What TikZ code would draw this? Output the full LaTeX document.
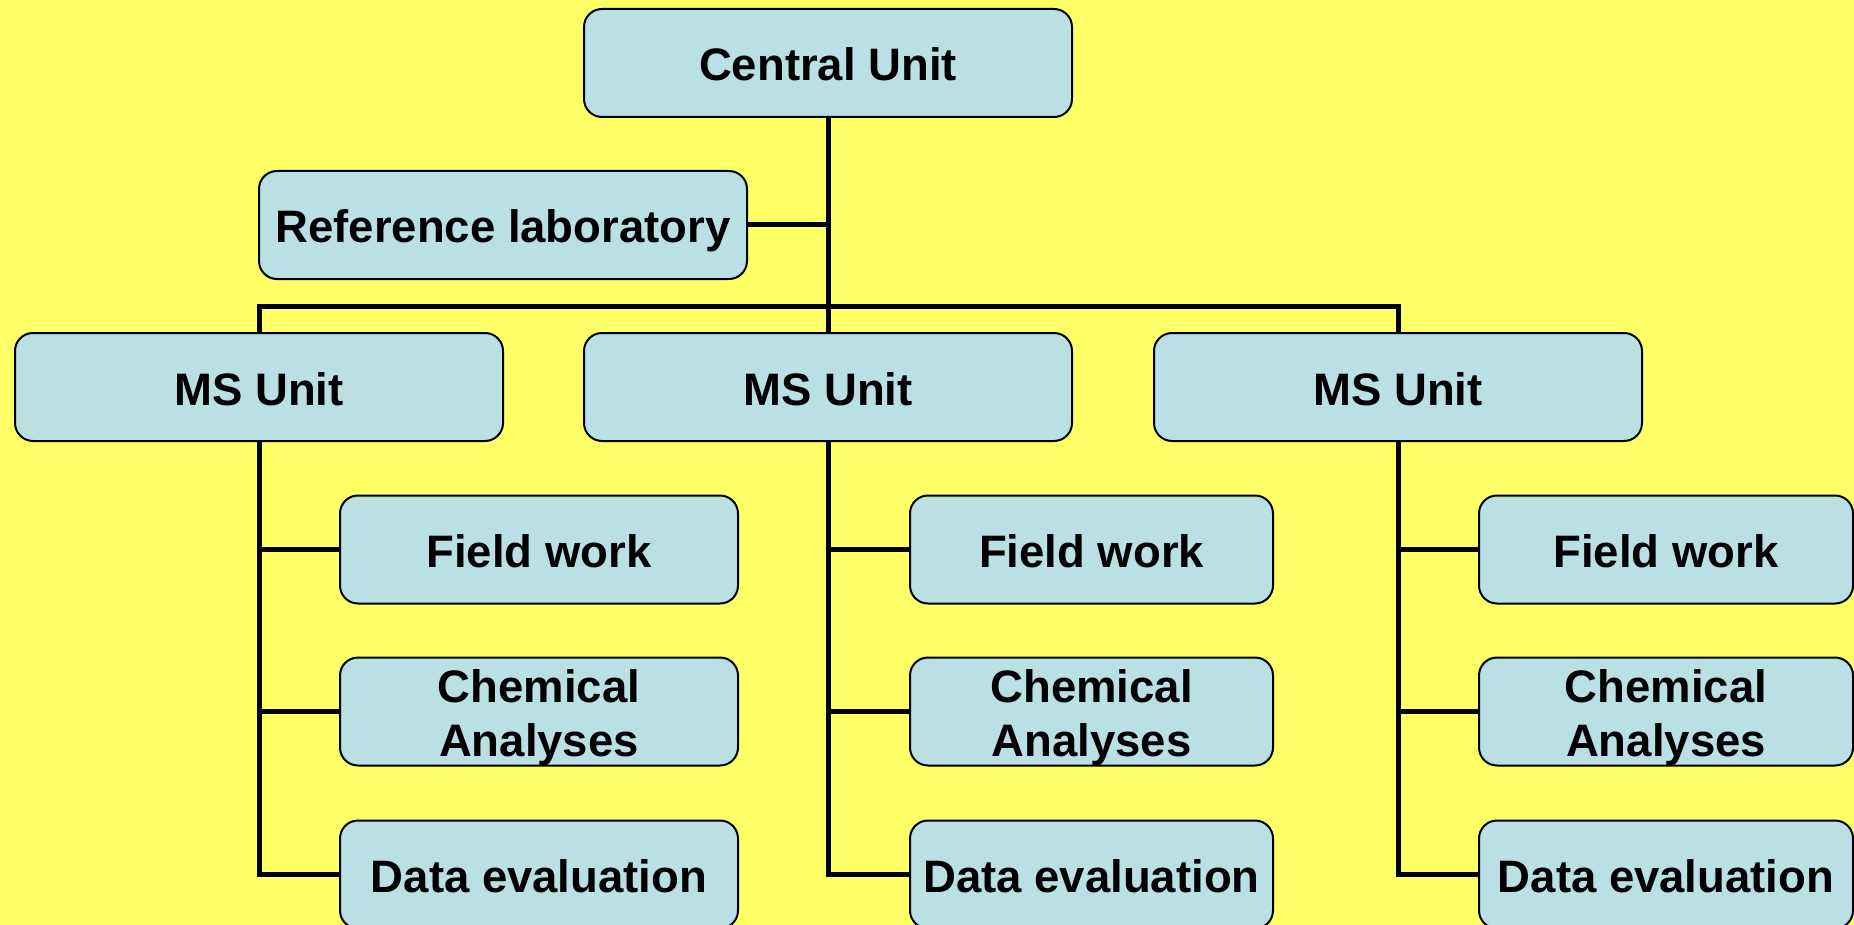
\documentclass[tikz,border=0pt]{standalone}
\usepackage{fontspec}
\setmainfont{Liberation Sans}
\definecolor{bgyellow}{HTML}{FFFF66}
\definecolor{boxblue}{HTML}{BBE0E3}
\tikzset{
  box/.style={draw=black, line width=2pt, fill=boxblue, rounded corners=18pt,
    minimum height=108pt, inner sep=0pt, align=center,
    text height=36pt, text depth=0pt,
    font=\fontsize{45.5}{54}\selectfont\bfseries},
  twoline/.style={text height=89pt},
  link/.style={line width=5pt, line join=miter}
}
\begin{document}
\begin{tikzpicture}[x=1pt,y=-1pt]
\fill[bgyellow] (0,0) rectangle (1854,925);
\useasboundingbox (0,0) rectangle (1854,925);
\node[box, minimum width=488pt] (central) at (828,63) {Central Unit};
\node[box, minimum width=488pt] (ref) at (503,225) {Reference laboratory};
\node[box, minimum width=488pt] (msl) at (259,387) {MS Unit};
\node[box, minimum width=488pt] (msm) at (828,387) {MS Unit};
\node[box, minimum width=488pt] (msr) at (1398,387) {MS Unit};
\coordinate (bus) at (828,306);
% left column
\node[box, minimum width=398pt] (fl) at (539,549.5) {Field work};
\node[box, twoline, minimum width=398pt] (cl) at (539,711.5) {Chemical\\Analyses};
\node[box, minimum width=398pt] (dl) at (539,874.5) {Data evaluation};
% middle column
\node[box, minimum width=363pt] (fm) at (1091.5,549.5) {Field work};
\node[box, twoline, minimum width=363pt] (cm) at (1091.5,711.5) {Chemical\\Analyses};
\node[box, minimum width=363pt] (dm) at (1091.5,874.5) {Data evaluation};
% right column
\node[box, minimum width=374pt] (fr) at (1666,549.5) {Field work};
\node[box, twoline, minimum width=374pt] (cr) at (1666,711.5) {Chemical\\Analyses};
\node[box, minimum width=374pt] (dr) at (1666,874.5) {Data evaluation};
% connectors
\draw[link] (central.south) -- (msm.north);
\draw[link] (ref.east) -- (ref.east -| central.south);
\draw[link] (msl.north) |- (bus) -| (msr.north);
\foreach \m/\a/\b/\c in {msl/fl/cl/dl, msm/fm/cm/dm, msr/fr/cr/dr}{
  \draw[link] (\m.south) |- (\c.west);
  \draw[link] (\m.south |- \a.west) -- (\a.west);
  \draw[link] (\m.south |- \b.west) -- (\b.west);
}
\end{tikzpicture}
\end{document}
